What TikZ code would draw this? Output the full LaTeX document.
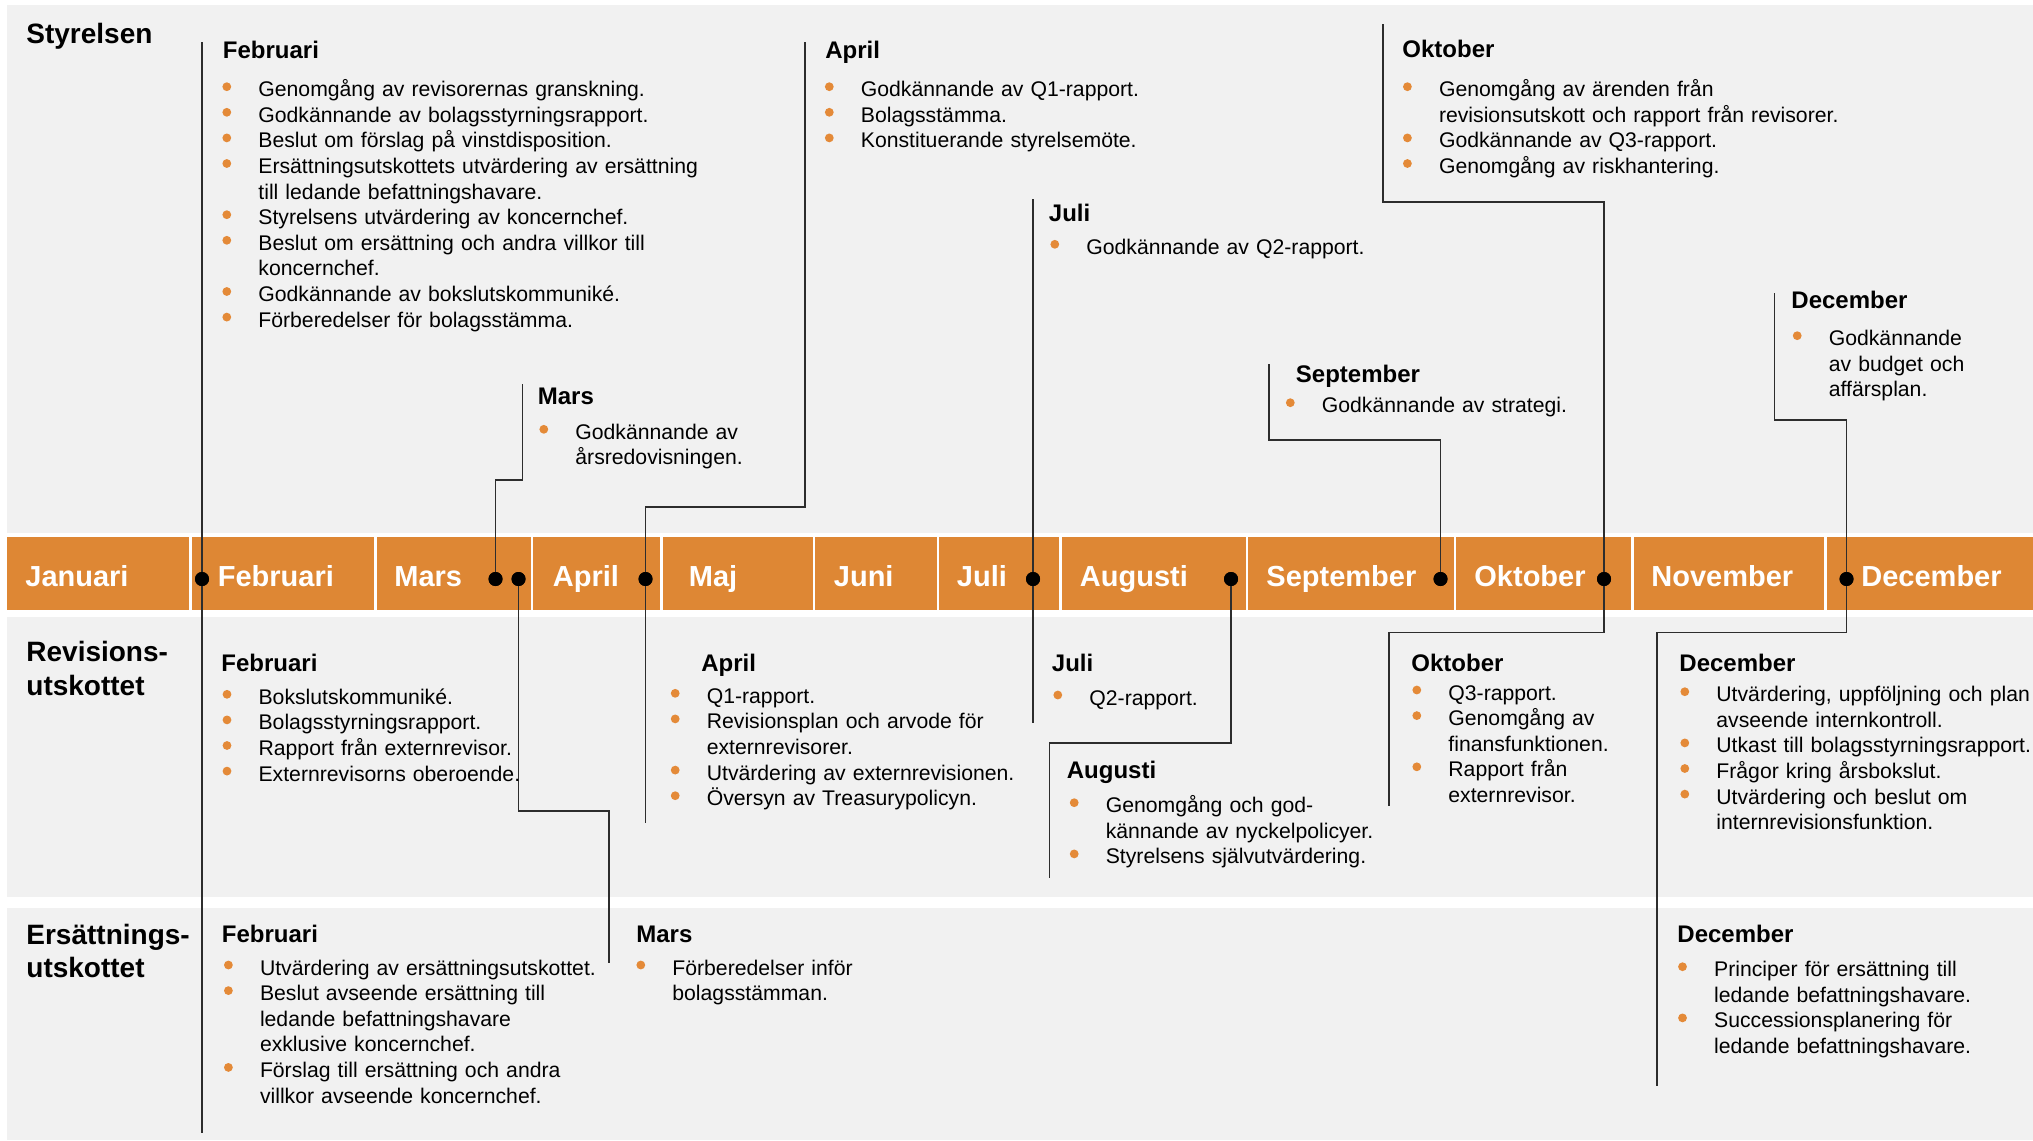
\documentclass[tikz,border=0pt]{standalone}
\usepackage{fontspec}
\setmainfont{Liberation Sans}
\definecolor{barorange}{RGB}{222,135,52}
\definecolor{bulc}{RGB}{228,138,56}
\definecolor{panelgray}{RGB}{241,241,241}
\definecolor{linec}{RGB}{45,45,45}

\newcommand\bdot{\makebox[18pt][l]{\tikz[baseline=0pt]\fill[bulc](2.2pt,5pt) circle (2.2pt);}}
\newcommand\itm[1]{\hangindent=18pt\hangafter=1\bdot#1\par}

\tikzset{
  hd/.style={anchor=base west, inner sep=0pt, font=\fontsize{12}{14}\selectfont\bfseries},
  rowt/.style={anchor=base west, inner sep=0pt, text width=120pt, align=left, font=\fontsize{14}{16.8}\selectfont\bfseries},
  lst/.style={anchor=base west, inner sep=0pt, text width=330pt, align=left, font=\fontsize{10.6}{12.8}\selectfont},
  mon/.style={anchor=base west, inner sep=0pt, text=white, font=\fontsize{14.5}{16}\selectfont\bfseries},
  conn/.style={draw=linec, line width=0.8pt},
  tdot/.style={circle, fill=black, inner sep=0pt, minimum size=7pt},
  cellf/.style={fill=barorange},
  panel/.style={fill=panelgray},
}

\begin{document}
\begin{tikzpicture}[x=0.5pt,y=-0.5pt]
\useasboundingbox[fill=white] (0,0) rectangle (2033,1140);

% panels
\fill[panel] (7,5) rectangle (2033,532.7);
\fill[panel] (7,617) rectangle (2033,897);
\fill[panel] (7,908) rectangle (2033,1140);

% orange bar cells
\foreach \a/\b in {7/189.3, 191.9/374.2, 376.8/530.7, 533.3/660.2, 662.8/812.7, 815.3/936.7, 939.3/1059.2, 1061.8/1245.7, 1248.3/1453.7, 1456.3/1631.2, 1633.8/1824.2, 1826.8/2033}
  \fill[cellf] (\a,537.3) rectangle (\b,610);

% month labels
\node[mon] (mJan) at (25,586) {Januari};
\node[mon] (mFeb) at (217.5,586) {Februari};
\node[mon] (mMar) at (394,586) {Mars};
\node[mon] (mApr) at (552.5,586) {April};
\node[mon] (mMaj) at (688.5,586) {Maj};
\node[mon] (mJun) at (833.5,586) {Juni};
\node[mon] (mJul) at (956.5,586) {Juli};
\node[mon] (mAug) at (1079.5,586) {Augusti};
\node[mon] (mSep) at (1266,586) {September};
\node[mon] (mOkt) at (1474,586) {Oktober};
\node[mon] (mNov) at (1651,586) {November};
\node[mon] (mDec) at (1861,586) {December};

% row titles
\node[rowt] (tStyr) at (26,43.5) {Styrelsen};
\node[rowt] (tRev) at (26,661.7) {Revisions-\\utskottet};
\node[rowt] (tErs) at (26,944) {Ersättnings-\\utskottet};

% connector coordinates
\coordinate (febTop) at (202,42);
\coordinate (febBot) at (202,1133);
\coordinate (marSTop) at (522.5,384);
\coordinate (marSC1) at (522.5,480);
\coordinate (marSC2) at (495.5,480);
\coordinate (marEC1) at (518.5,811);
\coordinate (marEC2) at (609,811);
\coordinate (marEBot) at (609,963);
\coordinate (aprTop) at (805,42);
\coordinate (aprC1) at (805,507);
\coordinate (aprC2) at (645.5,507);
\coordinate (aprBot) at (645.5,823);
\coordinate (julTop) at (1033,199);
\coordinate (julBot) at (1033,723);
\coordinate (augC1) at (1231,743);
\coordinate (augC2) at (1049.5,743);
\coordinate (augBot) at (1049.5,878);
\coordinate (sepTop) at (1269,364);
\coordinate (sepC1) at (1269,440);
\coordinate (sepC2) at (1440.5,440);
\coordinate (oktTop) at (1383,24);
\coordinate (oktC1) at (1383,202);
\coordinate (oktC2) at (1604,202);
\coordinate (oktC3) at (1604,632.5);
\coordinate (oktC4) at (1389,632.5);
\coordinate (oktBot) at (1389,806);
\coordinate (decTop) at (1774.5,293);
\coordinate (decC1) at (1774.5,420);
\coordinate (decC2) at (1846.5,420);
\coordinate (decC3) at (1846.5,632.3);
\coordinate (decC4) at (1657,632.3);
\coordinate (decBot) at (1657,1086);

% dots
\node[tdot] (dFeb) at (202,579) {};
\node[tdot] (dMarS) at (495.5,579) {};
\node[tdot] (dMarE) at (518.5,579) {};
\node[tdot] (dApr) at (645.5,579) {};
\node[tdot] (dJul) at (1033,579) {};
\node[tdot] (dAug) at (1231,579) {};
\node[tdot] (dSep) at (1440.5,579) {};
\node[tdot] (dOkt) at (1604,579) {};
\node[tdot] (dDec) at (1846.5,579) {};

% connectors
\draw[conn] (febTop) -- (dFeb.center) -- (febBot);
\draw[conn] (marSTop) -- (marSC1) -- (marSC2) -- (dMarS.center);
\draw[conn] (dMarE.center) -- (marEC1) -- (marEC2) -- (marEBot);
\draw[conn] (aprTop) -- (aprC1) -- (aprC2) -- (dApr.center) -- (aprBot);
\draw[conn] (julTop) -- (dJul.center) -- (julBot);
\draw[conn] (dAug.center) -- (augC1) -- (augC2) -- (augBot);
\draw[conn] (sepTop) -- (sepC1) -- (sepC2) -- (dSep.center);
\draw[conn] (oktTop) -- (oktC1) -- (oktC2) -- (dOkt.center) -- (oktC3) -- (oktC4) -- (oktBot);
\draw[conn] (decTop) -- (decC1) -- (decC2) -- (dDec.center) -- (decC3) -- (decC4) -- (decBot);
% redraw dots on top
\foreach \d in {dFeb,dMarS,dMarE,dApr,dJul,dAug,dSep,dOkt,dDec}
  \fill[black] (\d.center) circle (7);

% ---- Styrelsen
\node[hd] (hSFeb) at (222.5,58) {Februari};
\node[lst] (lSFeb) at (222,96.7) {%
\itm{Genomgång av revisorernas granskning.}
\itm{Godkännande av bolagsstyrningsrapport.}
\itm{Beslut om förslag på vinstdisposition.}
\itm{Ersättningsutskottets utvärdering av ersättning\newline till ledande befattningshavare.}
\itm{Styrelsens utvärdering av koncernchef.}
\itm{Beslut om ersättning och andra villkor till\newline koncernchef.}
\itm{Godkännande av bokslutskommuniké.}
\itm{Förberedelser för bolagsstämma.}};

\node[hd] (hSMar) at (537.5,404) {Mars};
\node[lst] (lSMar) at (539,439.3) {%
\itm{Godkännande av\newline årsredovisningen.}};

\node[hd] (hSApr) at (825,58.3) {April};
\node[lst] (lSApr) at (824.5,96.7) {%
\itm{Godkännande av Q1-rapport.}
\itm{Bolagsstämma.}
\itm{Konstituerande styrelsemöte.}};

\node[hd] (hSJul) at (1048.5,221.7) {Juli};
\node[lst] (lSJul) at (1050,254.3) {%
\itm{Godkännande av Q2-rapport.}};

\node[hd] (hSSep) at (1295.5,382.7) {September};
\node[lst] (lSSep) at (1285.5,412.7) {%
\itm{Godkännande av strategi.}};

\node[hd] (hSOkt) at (1402,57.7) {Oktober};
\node[lst] (lSOkt) at (1402.6,96.7) {%
\itm{Genomgång av ärenden från\newline revisionsutskott och rapport från revisorer.}
\itm{Godkännande av Q3-rapport.}
\itm{Genomgång av riskhantering.}};

\node[hd] (hSDec) at (1791,308.3) {December};
\node[lst] (lSDec) at (1792.4,345.7) {%
\itm{Godkännande\newline av budget och\newline affärsplan.}};

% ---- Revisionsutskottet
\node[hd] (hRFeb) at (221,671) {Februari};
\node[lst] (lRFeb) at (222.2,704.3) {%
\itm{Bokslutskommuniké.}
\itm{Bolagsstyrningsrapport.}
\itm{Rapport från externrevisor.}
\itm{Externrevisorns oberoende.}};

\node[hd] (hRApr) at (701,671) {April};
\node[lst] (lRApr) at (670.4,703.3) {%
\itm{Q1-rapport.}
\itm{Revisionsplan och arvode för\newline externrevisorer.}
\itm{Utvärdering av externrevisionen.}
\itm{Översyn av Treasurypolicyn.}};

\node[hd] (hRJul) at (1051.5,671) {Juli};
\node[lst] (lRJul) at (1053,705) {%
\itm{Q2-rapport.}};

\node[hd] (hRAug) at (1066.5,778.3) {Augusti};
\node[lst] (lRAug) at (1069.4,812.7) {%
\itm{Genomgång och god-\newline kännande av nyckelpolicyer.}
\itm{Styrelsens självutvärdering.}};

\node[hd] (hROkt) at (1411,671) {Oktober};
\node[lst] (lROkt) at (1412,700) {%
\itm{Q3-rapport.}
\itm{Genomgång av\newline finansfunktionen.}
\itm{Rapport från\newline externrevisor.}};

\node[hd] (hRDec) at (1679,671) {December};
\node[lst] (lRDec) at (1680,701.7) {%
\itm{Utvärdering, uppföljning och plan\newline avseende internkontroll.}
\itm{Utkast till bolagsstyrningsrapport.}
\itm{Frågor kring årsbokslut.}
\itm{Utvärdering och beslut om\newline internrevisionsfunktion.}};

% ---- Ersättningsutskottet
\node[hd] (hEFeb) at (221.5,942.7) {Februari};
\node[lst] (lEFeb) at (223.6,975) {%
\itm{Utvärdering av ersättningsutskottet.}
\itm{Beslut avseende ersättning till\newline ledande befattningshavare\newline exklusive koncernchef.}
\itm{Förslag till ersättning och andra\newline villkor avseende koncernchef.}};

\node[hd] (hEMar) at (636,942.7) {Mars};
\node[lst] (lEMar) at (636,975) {%
\itm{Förberedelser inför\newline bolagsstämman.}};

\node[hd] (hEDec) at (1677,942.7) {December};
\node[lst] (lEDec) at (1677.7,976.7) {%
\itm{Principer för ersättning till\newline ledande befattningshavare.}
\itm{Successionsplanering för\newline ledande befattningshavare.}};

\end{tikzpicture}
\end{document}
